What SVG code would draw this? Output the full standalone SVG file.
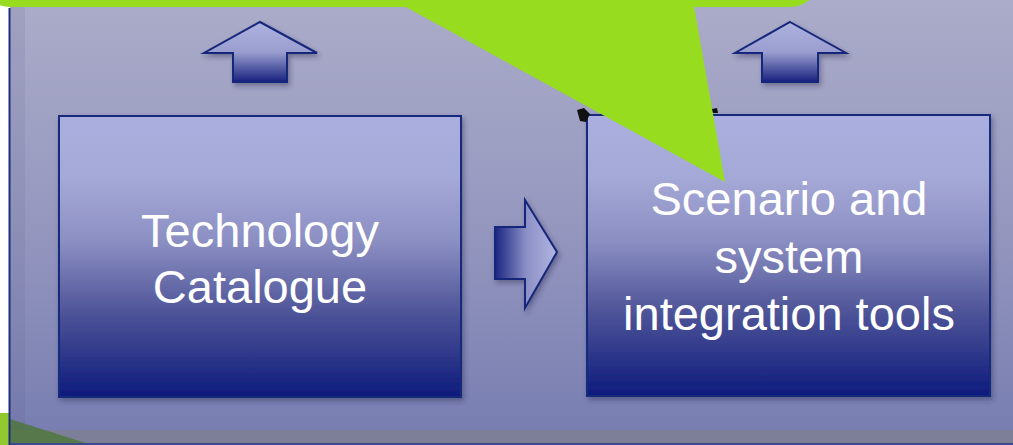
<svg xmlns="http://www.w3.org/2000/svg" width="1013" height="445" viewBox="0 0 1013 445">
<defs>
<linearGradient id="panelGrad" x1="0" y1="0" x2="0" y2="430" gradientUnits="userSpaceOnUse">
<stop offset="0" stop-color="#abacc9"/>
<stop offset="0.5" stop-color="#9698bf"/>
<stop offset="1" stop-color="#787eb1"/>
</linearGradient>
<linearGradient id="boxGrad" x1="0" y1="0" x2="0" y2="1">
<stop offset="0" stop-color="#abafdf"/>
<stop offset="0.22" stop-color="#a5a9d7"/>
<stop offset="0.45" stop-color="#8b8ec2"/>
<stop offset="0.7" stop-color="#4e5498"/>
<stop offset="1" stop-color="#0e1b7c"/>
</linearGradient>
<linearGradient id="upGrad" x1="0" y1="0" x2="0" y2="1">
<stop offset="0" stop-color="#aeb2de"/>
<stop offset="0.5" stop-color="#9a9ecf"/>
<stop offset="1" stop-color="#16217e"/>
</linearGradient>
<linearGradient id="rightGrad" x1="0" y1="0" x2="1" y2="0">
<stop offset="0" stop-color="#1a2582"/>
<stop offset="0.5" stop-color="#8b8fc5"/>
<stop offset="1" stop-color="#b2b6e2"/>
</linearGradient>
<filter id="shadow" x="-10%" y="-10%" width="125%" height="130%">
<feDropShadow dx="2" dy="3" stdDeviation="2.5" flood-color="#2a2d55" flood-opacity="0.45"/>
</filter>
<style>
.box { fill: url(#boxGrad); stroke: #172a7c; stroke-width: 2; filter: url(#shadow); }
.arrowUp { fill: url(#upGrad); stroke: #14277a; stroke-width: 2; stroke-linejoin: miter; filter: url(#shadow); }
.arrowRight { fill: url(#rightGrad); stroke: #14277a; stroke-width: 2; filter: url(#shadow); }
.label { font-family: "Liberation Sans", Arial, sans-serif; font-size: 47px; fill: #ffffff; text-anchor: middle; }
.green { fill: #97dc1f; }
</style>
</defs>

<!-- background -->
<rect x="0" y="0" width="1013" height="445" fill="#ffffff"/>
<rect x="10" y="0" width="1003" height="445" fill="url(#panelGrad)"/>
<rect x="10" y="0" width="15" height="445" fill="#5a5c80" opacity="0.12"/>
<rect x="10" y="430" width="1003" height="14" fill="#7d7f98"/>
<polygon points="0,413 9,413 9,445 0,445" fill="#92c92e"/>
<polygon points="10,419 92,445 10,445" fill="#4a7530" opacity="0.75"/>
<line x1="9.5" y1="8" x2="9.5" y2="445" stroke="#1d2f7a" stroke-width="2"/>
<line x1="10" y1="444" x2="1013" y2="444" stroke="#3a4a8a" stroke-width="2"/>

<!-- connectors -->
<g id="connectors">
<polygon class="arrowUp" points="260,22 317,53 287,53 287,82 233,82 233,53 204,53"/>
<polygon class="arrowUp" points="790,22 846,53 818,53 818,82 762,82 762,53 735,53"/>
<polygon class="arrowRight" points="495,227 525,227 525,200 557,252 525,308 525,279 495,279"/>
</g>

<g id="node-technology-catalogue">
<rect class="box" x="59" y="116" width="402" height="281"/>
<text class="label" x="260" y="247">Technology</text>
<text class="label" x="260" y="303">Catalogue</text>
</g>

<g id="node-scenario">
<rect class="box" x="587" y="115" width="403" height="281"/>
</g>

<!-- green callout -->
<g id="callout">
<rect class="green" x="-20" y="-100" width="840" height="107" rx="30"/>
<polygon class="green" points="404,6 694,6 725,182"/>
<polygon points="577,110 584,108 590,114 586,122 580,121" fill="#111"/>
<polygon points="712,109 717,108 718,113 713,113" fill="#111"/>
</g>

<g id="node-scenario-label">
<text class="label" x="789" y="215">Scenario and</text>
<text class="label" x="789" y="273">system</text>
<text class="label" x="789" y="330">integration tools</text>
</g>
</svg>
